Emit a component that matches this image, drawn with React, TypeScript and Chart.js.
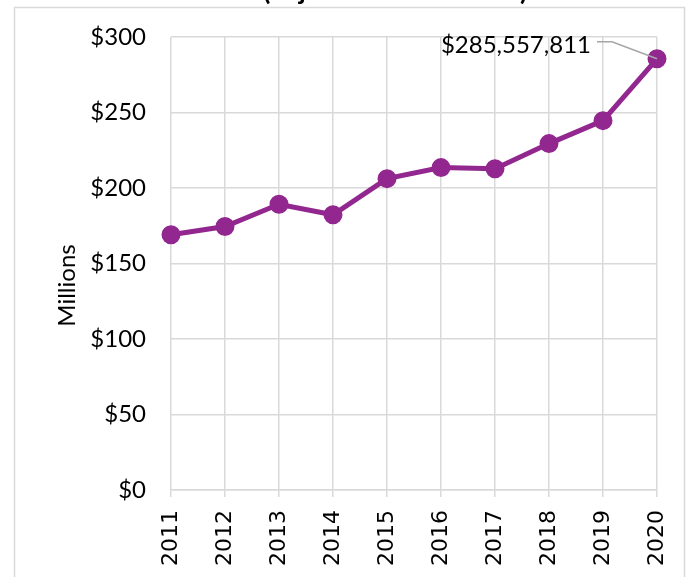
import React, { useEffect, useRef } from "react";
import { Chart, registerables } from "chart.js";

Chart.register(...registerables);

const years = ["2011", "2012", "2013", "2014", "2015", "2016", "2017", "2018", "2019", "2020"];
const revenueMillions = [169.1, 174.5, 189.2, 182.3, 206.2, 213.5, 212.8, 229.4, 244.6, 285.557811];
const yTicks = [0, 50, 100, 150, 200, 250, 300];
const lastLabel = "$285,557,811";
const axisTitle = "Millions";
const titleText = "(adjusted for inflation)";

const PURPLE = "#92278f";
const GRID = "#d9d9d9";

const decorPlugin = {
  id: "decor",
  beforeDraw(chart: any) {
    const ctx = chart.ctx;
    ctx.save();
    ctx.fillStyle = "#ffffff";
    ctx.fillRect(0, 0, chart.width, chart.height);
    ctx.strokeStyle = GRID;
    ctx.lineWidth = 1.5;
    ctx.strokeRect(14.5, 7.5, 670, 600);
    ctx.fillStyle = "#000";
    ctx.font = "bold 27px Lato";
    ctx.textAlign = "left";
    ctx.textBaseline = "alphabetic";
    ctx.fillText(titleText, 263, -0.5);
    const ca = chart.chartArea;
    ctx.font = "24px Lato";
    ctx.textAlign = "center";
    ctx.textBaseline = "middle";
    ctx.translate(67, (ca.top + ca.bottom) / 2 + 22);
    ctx.rotate(-Math.PI / 2);
    ctx.fillText(axisTitle, 0, 0);
    ctx.restore();
  },
  afterDatasetsDraw(chart: any) {
    const meta = chart.getDatasetMeta(0);
    const pt = meta.data[meta.data.length - 1];
    if (!pt) return;
    const px = pt.x;
    const py = pt.y;
    const ctx = chart.ctx;
    ctx.save();
    ctx.strokeStyle = "#a6a6a6";
    ctx.lineWidth = 1.5;
    ctx.beginPath();
    ctx.moveTo(px - 60, py - 17);
    ctx.lineTo(px - 45, py - 17);
    ctx.lineTo(px, py);
    ctx.stroke();
    ctx.fillStyle = "#000";
    ctx.font = "24px Lato";
    ctx.textAlign = "right";
    ctx.textBaseline = "middle";
    ctx.fillText(lastLabel, px - 66, py - 14);
    ctx.restore();
  },
};

export default function App() {
  const ref = useRef<HTMLCanvasElement>(null);
  useEffect(() => {
    if (!ref.current) return;
    const chart = new Chart(ref.current, {
      type: "line",
      data: {
        labels: years,
        datasets: [
          {
            data: revenueMillions,
            borderColor: PURPLE,
            backgroundColor: PURPLE,
            borderWidth: 5,
            pointRadius: 7,
            pointHoverRadius: 7,
            pointBackgroundColor: PURPLE,
            pointBorderColor: PURPLE,
            tension: 0,
            clip: false as any,
          },
        ],
      },
      options: {
        animation: false,
        responsive: false,
        maintainAspectRatio: false,
        events: [],
        layout: { padding: { left: 0, right: 32, top: 37, bottom: 0 } },
        plugins: { legend: { display: false }, tooltip: { enabled: false }, title: { display: false } },
        scales: {
          x: {
            type: "category",
            offset: false,
            grid: { color: GRID, lineWidth: 1.5, drawTicks: true, tickLength: 7, tickColor: GRID },
            border: { color: GRID, width: 1.5 },
            ticks: {
              color: "#000",
              font: { family: "DejaVu Sans", size: 22 },
              minRotation: 90,
              maxRotation: 90,
              padding: 13,
              autoSkip: false,
            },
            afterFit: (s: any) => {
              s.height = 87;
              s.paddingLeft = 0;
              s.paddingRight = 0;
            },
          },
          y: {
            min: 0,
            max: 300,
            afterBuildTicks: (s: any) => {
              s.ticks = yTicks.map((v) => ({ value: v }));
            },
            grid: { color: GRID, lineWidth: 1.5, drawTicks: false },
            border: { display: false },
            ticks: {
              color: "#000",
              font: { family: "Lato", size: 24 },
              padding: 25,
              callback: (v: any) => "$" + v,
            },
            afterFit: (s: any) => {
              s.width = 171;
              s.paddingTop = 0;
              s.paddingBottom = 0;
            },
          },
        },
      },
      plugins: [decorPlugin],
    });
    return () => chart.destroy();
  }, []);
  return (
    <div style={{ position: "fixed", left: 0, top: 0, width: 689, height: 577, background: "#fff" }}>
      <canvas ref={ref} width={689} height={577} style={{ display: "block", width: 689, height: 577 }} />
    </div>
  );
}
